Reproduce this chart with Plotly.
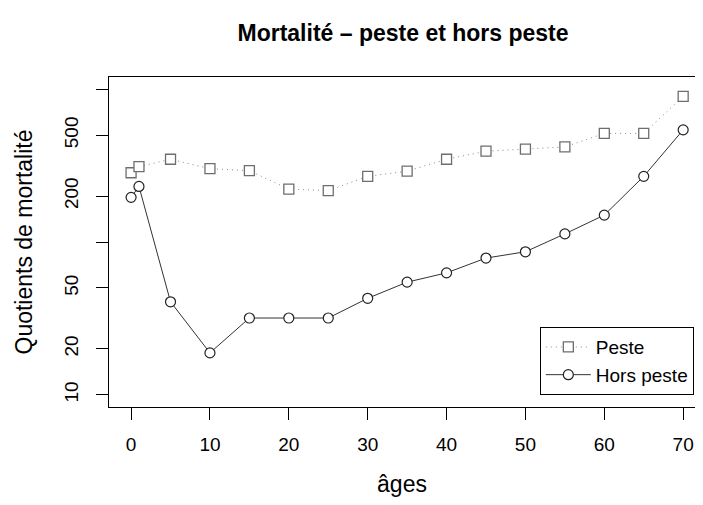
import plotly.graph_objects as go

# âges et quotients de mortalité (pour 1000)
ages = [0, 1, 5, 10, 15, 20, 25, 30, 35, 40, 45, 50, 55, 60, 65, 70]
peste = [284, 311, 348, 302, 293, 222, 217, 269, 291, 348, 393, 405, 419, 514, 514, 899]
hors_peste = [196, 231, 40.6, 18.8, 31.8, 31.8, 31.8, 42.8, 54.6, 62.8, 78.5, 86.3, 113, 150, 269, 542]

y_ticks = [10, 20, 50, 100, 200, 500, 1000]
y_labels = ["10", "20", "50", "", "200", "500", ""]
x_ticks = [0, 10, 20, 30, 40, 50, 60, 70]

fonte = "Liberation Sans, Arial, Helvetica, sans-serif"

fig = go.Figure()

fig.add_trace(go.Scatter(
    x=ages, y=peste, name="Peste",
    mode="lines+markers",
    line=dict(color="#8a8a8a", width=1, dash="1px,4px"),
    marker=dict(symbol="square", size=10, color="white",
                line=dict(color="#6e6e6e", width=1.3)),
))

fig.add_trace(go.Scatter(
    x=ages, y=hors_peste, name="Hors peste",
    mode="lines+markers",
    line=dict(color="#333333", width=1),
    marker=dict(symbol="circle", size=10, color="white",
                line=dict(color="#222222", width=1.2)),
))

# la page ajoute une marge de 8 px autour de la figure
fig.update_layout(
    width=687, height=489,
    margin=dict(l=101, r=0, t=69, b=90),
    plot_bgcolor="white", paper_bgcolor="white",
    font=dict(family=fonte, size=19, color="black"),
    title=dict(text="<b>Mortalité – peste et hors peste</b>",
               x=0.575, xanchor="center", y=0.949, yanchor="middle",
               font=dict(size=23)),
    xaxis=dict(
        range=[-2.8, 71.5], tickvals=x_ticks,
        showgrid=False, zeroline=False,
        showline=True, linecolor="black", linewidth=1, mirror=True,
        ticks="outside", ticklen=12, tickcolor="black",
        ticklabelstandoff=8,
        title=dict(text="âges", standoff=24),
    ),
    yaxis=dict(
        type="log", range=[0.92, 3.08],
        tickvals=y_ticks, ticktext=y_labels, tickangle=-90,
        showgrid=False, zeroline=False,
        showline=True, linecolor="black", linewidth=1,
        ticks="outside", ticklen=12, tickcolor="black",
        ticklabelstandoff=10,
        title=dict(text="Quotients de mortalité", standoff=22),
    ),
    legend=dict(
        x=0.998, xanchor="right", y=0.036, yanchor="bottom",
        bordercolor="black", borderwidth=1, bgcolor="white",
        font=dict(size=19), itemwidth=45, entrywidth=160,
    ),
)

fig.write_html("out.html")
